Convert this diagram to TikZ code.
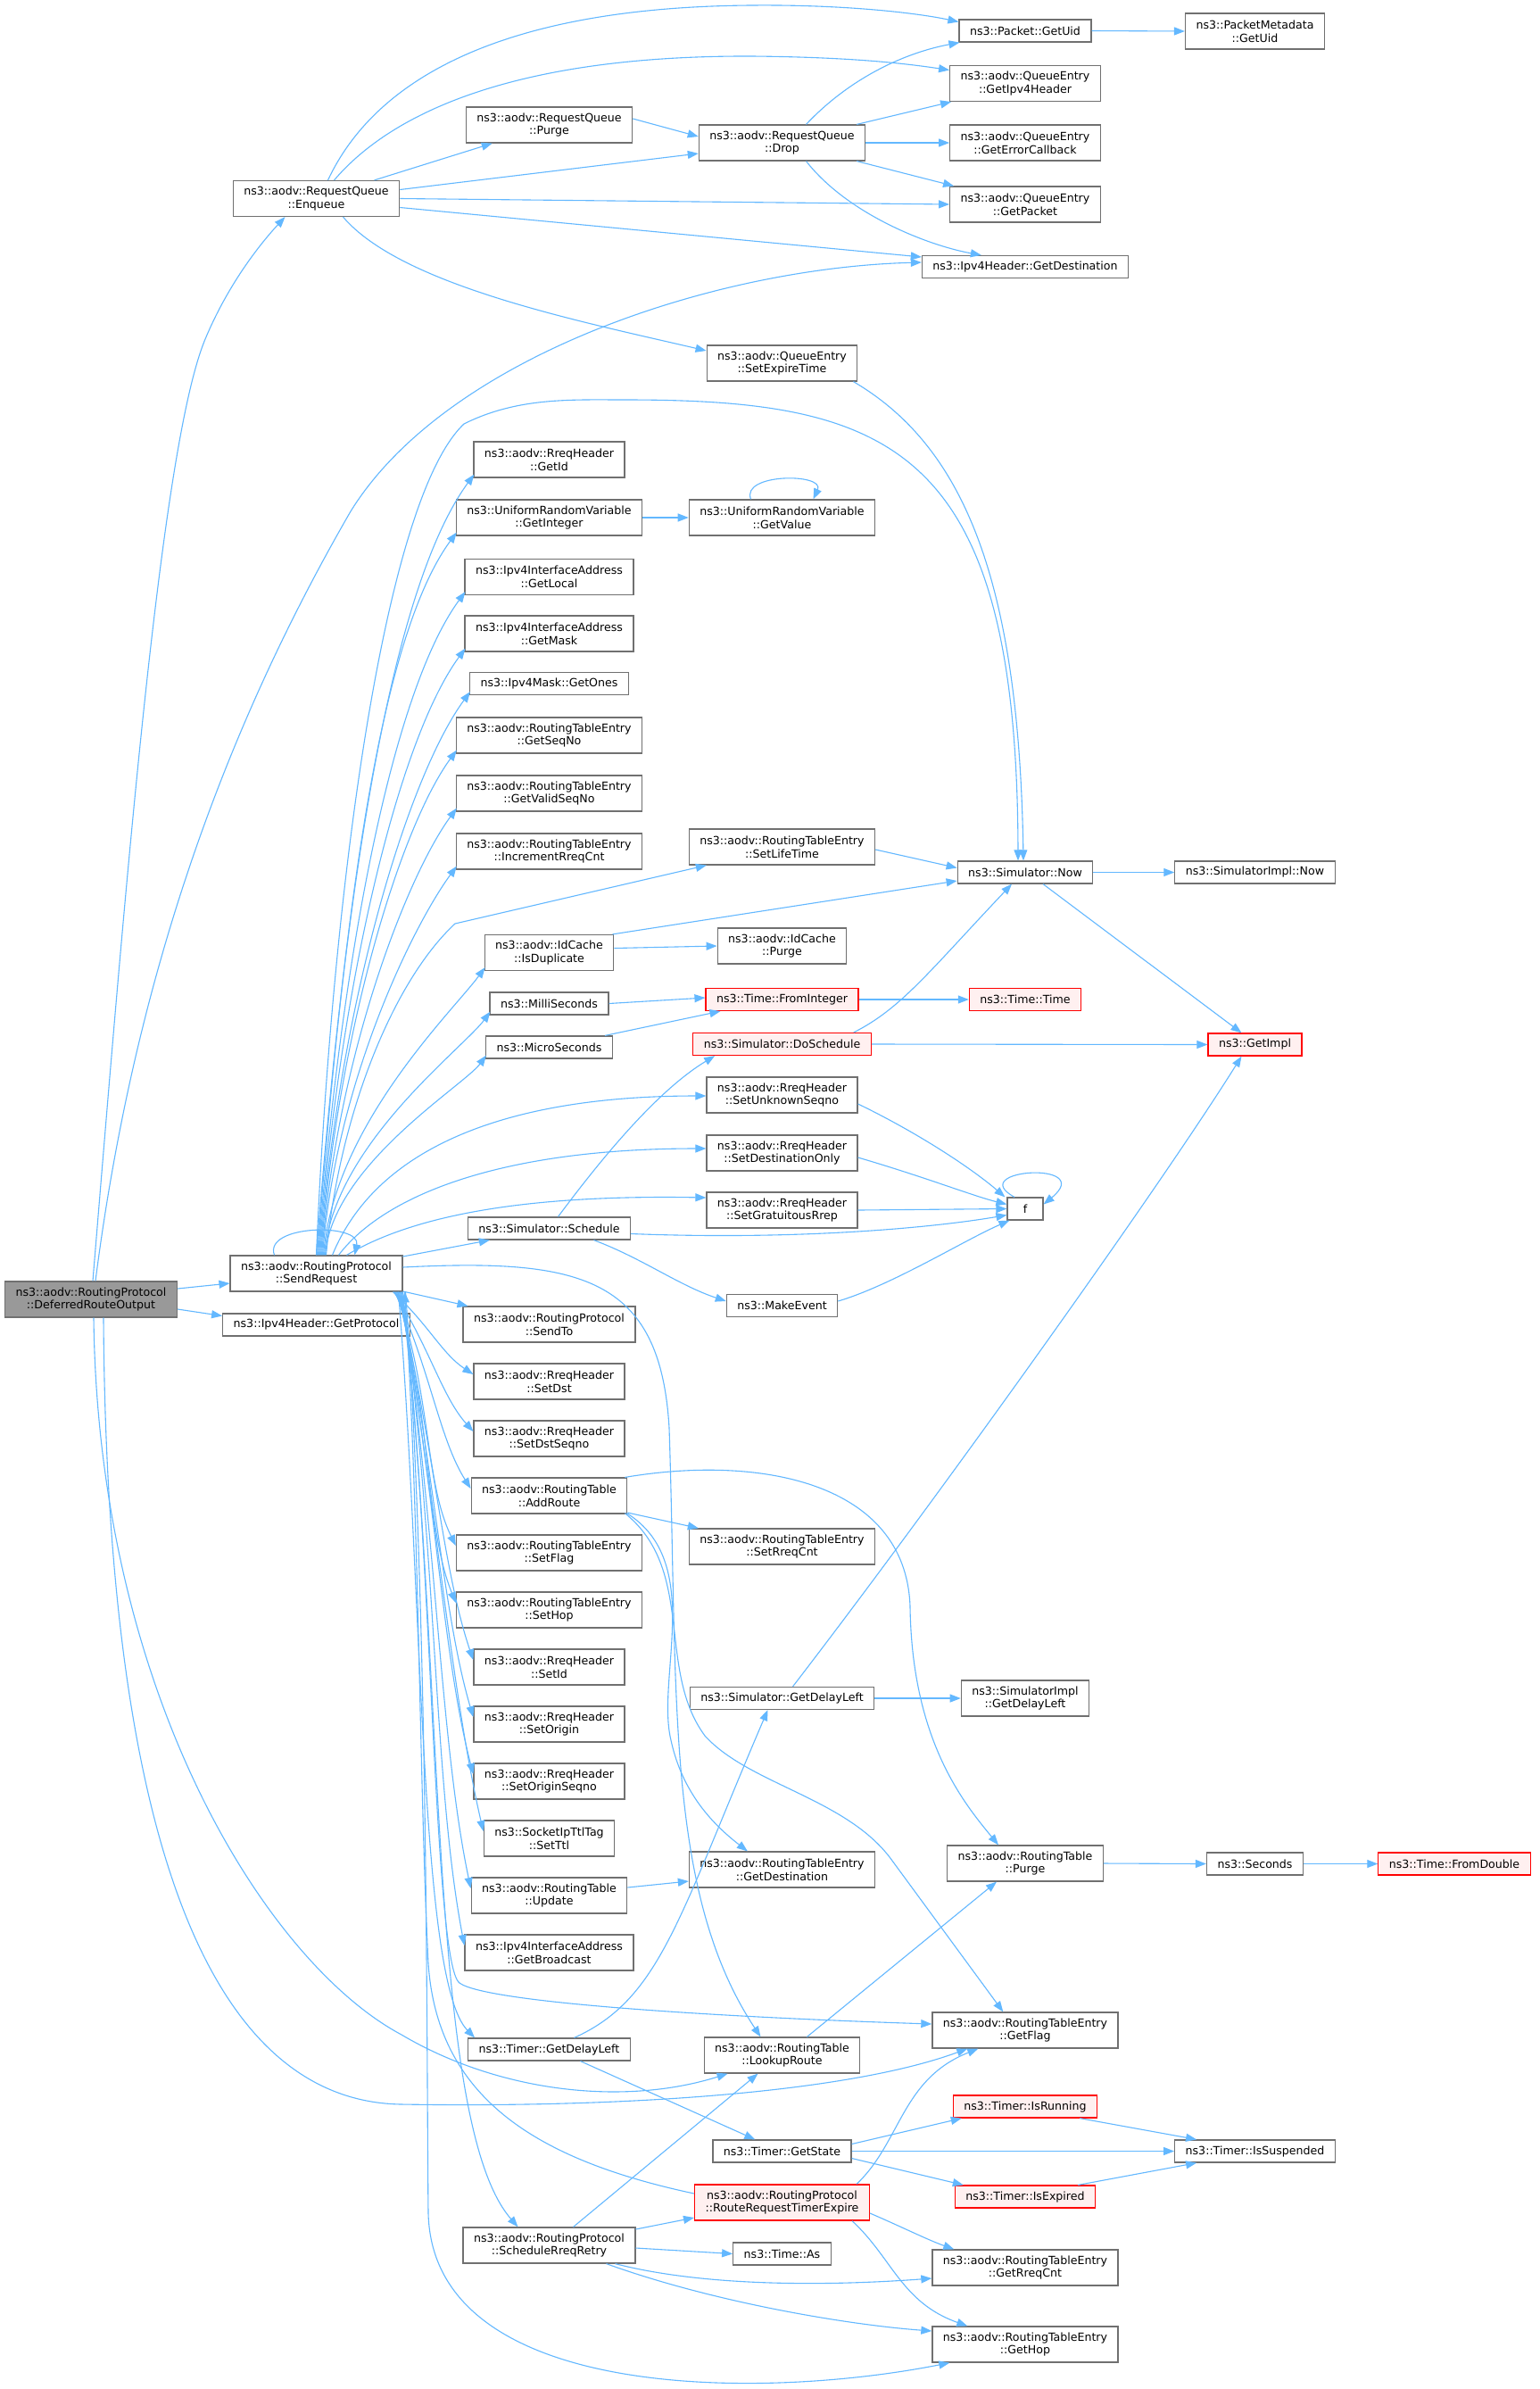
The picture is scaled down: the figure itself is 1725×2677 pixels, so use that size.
\documentclass[tikz,border=0pt]{standalone}
\usepackage{fontspec}
\setmainfont{DejaVu Sans}
\usetikzlibrary{arrows.meta,calc}
\definecolor{edgec}{HTML}{63B8FF}
\definecolor{nodeb}{HTML}{707070}
\definecolor{redb}{HTML}{FF0000}
\definecolor{redf}{HTML}{FFF0F0}
\definecolor{rootf}{HTML}{999999}
\tikzset{
 nb/.style={draw=nodeb, line width=1.2pt, fill=white, inner xsep=12pt, inner ysep=0pt, minimum height=25pt, align=center, font=\fontsize{12.6}{14.7}\selectfont, text=black},
 n2/.style={nb, minimum height=40pt},
 nr/.style={nb, draw=redb, fill=redf},
 nr2/.style={n2, draw=redb, fill=redf},
 root/.style={n2, fill=rootf},
 edg/.style={draw=edgec, line width=1.1pt, -{Triangle[length=12pt,width=9pt]}},
}
\newcommand\fanU[2]{%
  \draw[edg] let \p1=([xshift=#1]S.north), \p2=([xshift=1pt,yshift=4pt]#2.south west), \n1={\y2-\y1} in
   (\p1) .. controls (\x1+0.035*\n1,\y1+0.45*\n1) and (\x2-0.11*\n1,\y2-0.15*\n1) .. (\p2);}
\newcommand\fanD[2]{%
  \draw[edg] let \p1=([xshift=#1]S.south), \p2=([yshift=8pt]#2.west), \n1={\y1-\y2} in
   (\p1) .. controls (\x1+40pt,\y1-0.4*\n1) and (\x2-35pt,\y2+0.25*\n1) .. (\p2);}
\begin{document}
\begin{tikzpicture}[x=1pt,y=-1pt]
\fill[white] (0,0) rectangle (1725,2677);
\useasboundingbox (0,0) rectangle (1725,2677);
% column 0
\node[root] (A) at (102,1456) {ns3::aodv::RoutingProtocol\\::DeferredRouteOutput};
% column 1
\node[n2] (E) at (354.5,222.5) {ns3::aodv::RequestQueue\\::Enqueue};
\node[n2] (S) at (354.5,1427) {ns3::aodv::RoutingProtocol\\::SendRequest};
\node[nb] (GP) at (354.5,1484.5) {ns3::Ipv4Header::GetProtocol};
% column 2
\node[n2] (RQP) at (615.5,140) {ns3::aodv::RequestQueue\\::Purge};
\node[n2] (GId) at (615.5,515) {ns3::aodv::RreqHeader\\::GetId};
\node[n2] (GInt) at (615.5,580) {ns3::UniformRandomVariable\\::GetInteger};
\node[n2] (GLoc) at (615.5,646.5) {ns3::Ipv4InterfaceAddress\\::GetLocal};
\node[n2] (GMask) at (615.5,710) {ns3::Ipv4InterfaceAddress\\::GetMask};
\node[nb] (GOnes) at (615.5,766) {ns3::Ipv4Mask::GetOnes};
\node[n2] (GSeq) at (615.5,824) {ns3::aodv::RoutingTableEntry\\::GetSeqNo};
\node[n2] (GVSeq) at (615.5,889) {ns3::aodv::RoutingTableEntry\\::GetValidSeqNo};
\node[n2] (IRC) at (615.5,954) {ns3::aodv::RoutingTableEntry\\::IncrementRreqCnt};
\node[n2] (IsDup) at (615.5,1067.5) {ns3::aodv::IdCache\\::IsDuplicate};
\node[nb] (Milli) at (615.5,1124.5) {ns3::MilliSeconds};
\node[nb] (Micro) at (615.5,1173.5) {ns3::MicroSeconds};
\node[nb] (Sched) at (615.5,1376.5) {ns3::Simulator::Schedule};
\node[n2] (SendTo) at (615.5,1484) {ns3::aodv::RoutingProtocol\\::SendTo};
\node[n2] (SetDst) at (615.5,1548) {ns3::aodv::RreqHeader\\::SetDst};
\node[n2] (SetDstSeq) at (615.5,1612) {ns3::aodv::RreqHeader\\::SetDstSeqno};
\node[n2] (AddRoute) at (615.5,1676) {ns3::aodv::RoutingTable\\::AddRoute};
\node[n2] (SetFlag) at (615.5,1740) {ns3::aodv::RoutingTableEntry\\::SetFlag};
\node[n2] (SetHop) at (615.5,1804) {ns3::aodv::RoutingTableEntry\\::SetHop};
\node[n2] (SetId) at (615.5,1868) {ns3::aodv::RreqHeader\\::SetId};
\node[n2] (SetOrig) at (615.5,1932) {ns3::aodv::RreqHeader\\::SetOrigin};
\node[n2] (SetOrigSeq) at (615.5,1996) {ns3::aodv::RreqHeader\\::SetOriginSeqno};
\node[n2] (SetTtl) at (615.5,2060) {ns3::SocketIpTtlTag\\::SetTtl};
\node[n2] (Update) at (615.5,2124) {ns3::aodv::RoutingTable\\::Update};
\node[n2] (GBcast) at (615.5,2188) {ns3::Ipv4InterfaceAddress\\::GetBroadcast};
\node[nb] (TGDL) at (615.5,2296.5) {ns3::Timer::GetDelayLeft};
\node[n2] (SRR) at (615.5,2516) {ns3::aodv::RoutingProtocol\\::ScheduleRreqRetry};
% column 3
\node[n2] (Drop) at (876.5,160) {ns3::aodv::RequestQueue\\::Drop};
\node[n2] (SetExp) at (876.5,407) {ns3::aodv::QueueEntry\\::SetExpireTime};
\node[n2] (GVal) at (876.5,580) {ns3::UniformRandomVariable\\::GetValue};
\node[n2] (SetLife) at (876.5,949) {ns3::aodv::RoutingTableEntry\\::SetLifeTime};
\node[n2] (IdPurge) at (876.5,1060) {ns3::aodv::IdCache\\::Purge};
\node[nr] (FromInt) at (876.5,1120) {ns3::Time::FromInteger};
\node[nr] (DoSched) at (876.5,1170) {ns3::Simulator::DoSchedule};
\node[n2] (SetUnk) at (876.5,1227) {ns3::aodv::RreqHeader\\::SetUnknownSeqno};
\node[n2] (SetDO) at (876.5,1292) {ns3::aodv::RreqHeader\\::SetDestinationOnly};
\node[n2] (SetGR) at (876.5,1356) {ns3::aodv::RreqHeader\\::SetGratuitousRrep};
\node[nb] (MakeEv) at (876.5,1463) {ns3::MakeEvent};
\node[n2] (SetRreq) at (876.5,1733) {ns3::aodv::RoutingTableEntry\\::SetRreqCnt};
\node[nb] (SGDL) at (876.5,1903) {ns3::Simulator::GetDelayLeft};
\node[n2] (GDest) at (876.5,2095) {ns3::aodv::RoutingTableEntry\\::GetDestination};
\node[n2] (Lookup) at (876.5,2303) {ns3::aodv::RoutingTable\\::LookupRoute};
\node[nb] (GState) at (876.5,2410.5) {ns3::Timer::GetState};
\node[nr2] (RRTE) at (876.5,2468) {ns3::aodv::RoutingProtocol\\::RouteRequestTimerExpire};
\node[nb] (TAs) at (876.5,2525.5) {ns3::Time::As};
% column 4
\node[nb] (PUid) at (1149,34.5) {ns3::Packet::GetUid};
\node[n2] (GIpv4) at (1149,93.5) {ns3::aodv::QueueEntry\\::GetIpv4Header};
\node[n2] (GErr) at (1149,160) {ns3::aodv::QueueEntry\\::GetErrorCallback};
\node[n2] (GPkt) at (1149,229) {ns3::aodv::QueueEntry\\::GetPacket};
\node[nb] (IGDest) at (1149,299) {ns3::Ipv4Header::GetDestination};
\node[nb] (Now) at (1149,977.5) {ns3::Simulator::Now};
\node[nr] (TTime) at (1149,1120) {ns3::Time::Time};
\node[nb, minimum width=40pt, inner xsep=0pt] (F) at (1149,1354.5) {f};
\node[n2] (SIGDL) at (1149,1903) {ns3::SimulatorImpl\\::GetDelayLeft};
\node[n2] (RTPurge) at (1149,2088) {ns3::aodv::RoutingTable\\::Purge};
\node[n2] (GFlag) at (1149,2275) {ns3::aodv::RoutingTableEntry\\::GetFlag};
\node[nr] (IsRun) at (1149,2360.5) {ns3::Timer::IsRunning};
\node[nr] (IsExp) at (1149,2461.5) {ns3::Timer::IsExpired};
\node[n2] (GRreq) at (1149,2541) {ns3::aodv::RoutingTableEntry\\::GetRreqCnt};
\node[n2] (GHop) at (1149,2627) {ns3::aodv::RoutingTableEntry\\::GetHop};
% column 5
\node[n2] (PMUid) at (1406.5,35) {ns3::PacketMetadata\\::GetUid};
\node[nb] (SINow) at (1406.5,977.5) {ns3::SimulatorImpl::Now};
\node[nr] (GImpl) at (1406.5,1170.5) {ns3::GetImpl};
\node[nb] (Secs) at (1406.5,2088.5) {ns3::Seconds};
\node[nb] (IsSusp) at (1406.5,2410.5) {ns3::Timer::IsSuspended};
% column 6
\node[nr] (FromD) at (1630,2088.5) {ns3::Time::FromDouble};

% ---------- edges from A
\draw[edg] ([xshift=2pt]A.north) .. controls (140,1000) and (180,500) .. (230,380) .. controls (255,320) and (290,275) .. ([xshift=-35pt]E.south);
\draw[edg] ([xshift=5pt]A.north) .. controls (150,1100) and (250,820) .. (393,573) .. controls (500,400) and (800,300) .. ([yshift=5pt]IGDest.west);
\draw[edg] ([yshift=12pt]A.east) -- ([yshift=-11pt]S.west);
\draw[edg] ([yshift=-11pt]A.east) -- ([yshift=10pt]GP.west);
\draw[edg] ([xshift=3pt]A.south) .. controls (110,1900) and (300,2200) .. (450,2280) .. controls (560,2345) and (700,2360) .. ([xshift=27pt]Lookup.south west);
\draw[edg] ([xshift=14pt]A.south) .. controls (120,2100) and (250,2355) .. (450,2358) .. controls (700,2362) and (950,2345) .. ([xshift=40pt]GFlag.south west);
% ---------- edges from Enqueue
\draw[edg] ([xshift=13pt]E.north) .. controls (420,90) and (560,8) .. (842,6) .. controls (950,5) and (1030,15) .. ([yshift=10pt]PUid.west);
\draw[edg] ([xshift=20pt]E.north) .. controls (440,125) and (580,62) .. (842,63) .. controls (960,64) and (1020,72) .. ([yshift=15pt]GIpv4.west);
\draw[edg] ([xshift=65pt]E.north) -- ([xshift=30pt]RQP.south west);
\draw[edg] ([yshift=10pt]E.east) -- ([yshift=-12pt]Drop.west);
\draw[edg] (E.east) -- (GPkt.west);
\draw[edg] ([yshift=-10pt]E.east) -- ([yshift=11pt]IGDest.west);
\draw[edg] ([xshift=30pt]E.south) .. controls (450,320) and (650,360) .. ([yshift=14pt]SetExp.west);
\draw[edg] ([yshift=7pt]RQP.east) -- ([yshift=7pt]Drop.west);
% ---------- edges from Drop
\draw[edg] ([xshift=27pt]Drop.north) .. controls (950,90) and (1010,60) .. ([xshift=1pt]PUid.south west);
\draw[edg] ([xshift=-10pt]Drop.north east) -- ([xshift=2pt]GIpv4.south west);
\draw[edg] (Drop.east) -- (GErr.west);
\draw[edg] ([xshift=-10pt]Drop.south east) -- ([xshift=5pt]GPkt.north west);
\draw[edg] ([xshift=27pt]Drop.south) .. controls (950,240) and (1040,275) .. ([xshift=67pt]IGDest.north west);
\draw[edg] (PUid.east) -- (PMUid.west);
\draw[edg] ([xshift=-5pt]SetExp.south east) .. controls (1080,500) and (1142,650) .. ([xshift=-2pt]Now.north);
% ---------- SendRequest upward fan
\draw[edg] ([xshift=-47pt]S.north) .. controls (295,1372) and (405,1370) .. ([xshift=43pt]S.north);
\draw[edg] (S.north) .. controls (372,1000) and (430,560) .. (520,475) .. controls (580,445) and (640,448) .. (700,448) .. controls (1000,448) and (1140,500) .. ([xshift=-8pt]Now.north);
\fanU{0pt}{GId}
\fanU{1pt}{GInt}
\fanU{2pt}{GLoc}
\fanU{3pt}{GMask}
\fanU{4pt}{GOnes}
\fanU{5pt}{GSeq}
\fanU{6pt}{GVSeq}
\fanU{7pt}{IRC}
\fanU{8pt}{IsDup}
\fanU{9pt}{Milli}
\fanU{10pt}{Micro}
\draw[edg] ([xshift=11pt]S.north) .. controls (380,1250) and (440,1100) .. (510,1035) -- ([xshift=20pt]SetLife.south west);
\draw[edg] ([xshift=18pt]S.north) .. controls (420,1290) and (560,1228) .. ([yshift=-1pt]SetUnk.west);
\draw[edg] ([xshift=25pt]S.north) .. controls (430,1340) and (560,1287) .. ([yshift=5pt]SetDO.west);
\draw[edg] ([xshift=34pt]S.north) .. controls (450,1370) and (560,1338) .. ([yshift=14pt]SetGR.west);
\draw[edg] ([yshift=19pt]S.east) -- ([xshift=25pt]Sched.south west);
\draw[edg] ([yshift=7pt]S.east) .. controls (650,1410) and (740,1430) .. (750,1600) .. controls (760,1900) and (745,2120) .. ([xshift=-24pt]Lookup.north);
\draw[edg] ([yshift=-20pt]S.east) -- ([xshift=6pt]SendTo.north west);
% ---------- SendRequest downward fan
\fanD{86pt}{SetDst}
\fanD{87pt}{SetDstSeq}
\fanD{88pt}{AddRoute}
\fanD{89pt}{SetFlag}
\fanD{90pt}{SetHop}
\fanD{91pt}{SetId}
\fanD{92pt}{SetOrig}
\fanD{93pt}{SetOrigSeq}
\fanD{94pt}{SetTtl}
\fanD{95pt}{Update}
\fanD{96pt}{GBcast}
\draw[edg] ([xshift=92pt]S.south) .. controls (475,1800) and (470,2220) .. ([xshift=8pt]TGDL.north west);
\draw[edg] ([xshift=97pt]S.south) .. controls (500,1900) and (480,2380) .. ([xshift=-35pt]SRR.north);
\draw[edg] ([xshift=95pt]S.south) .. controls (485,1700) and (485,2200) .. (515,2222) .. controls (545,2244) and (800,2260) .. ([yshift=7pt]GFlag.west);
\draw[edg] ([xshift=100pt]S.south) .. controls (480,1800) and (478,2300) .. (480,2480) .. controls (485,2690) and (850,2690) .. ([xshift=20pt]GHop.south west);
\draw[edg] ([yshift=10pt]RRTE.west) .. controls (600,2420) and (490,2350) .. (480,2200) .. controls (470,2000) and (470,1700) .. ([xshift=99pt]S.south);
% ---------- AddRoute, Update, timers
\draw[edg] ([xshift=-3pt]AddRoute.north east) .. controls (850,1630) and (1015,1660) .. (1020,1800) .. controls (1022,1950) and (1080,2020) .. ([xshift=-30pt]RTPurge.north);
\draw[edg] ([yshift=-19pt]AddRoute.east) -- ([xshift=11pt]SetRreq.north west);
\draw[edg] ([xshift=-1pt,yshift=1pt]AddRoute.south east) .. controls (790,1750) and (735,1880) .. (752,1950) .. controls (765,2010) and (800,2045) .. ([xshift=66pt]GDest.north west);
\draw[edg] ([xshift=-3pt,yshift=1pt]AddRoute.south east) .. controls (780,1760) and (735,1870) .. (790,1945) .. controls (840,2000) and (950,2015) .. (1000,2085) -- ([xshift=80pt]GFlag.north west);
\draw[edg] ([yshift=9pt]Update.east) -- ([yshift=-13pt]GDest.west);
\draw[edg] ([xshift=28pt]TGDL.north) .. controls (740,2240) and (760,2150) .. ([xshift=-16pt]SGDL.south);
\draw[edg] ([xshift=35pt]TGDL.south) -- ([xshift=48pt]GState.north west);
\draw[edg] ([xshift=27pt]SRR.north) -- ([xshift=-27pt]Lookup.south);
\draw[edg] ([yshift=18pt]SRR.east) -- ([yshift=-17pt]RRTE.west);
\draw[edg] ([yshift=-3pt]SRR.east) -- (TAs.west);
\draw[edg] ([xshift=-23pt]SRR.south east) .. controls (800,2565) and (950,2560) .. ([yshift=-12pt]GRreq.west);
\draw[edg] ([xshift=-33pt]SRR.south east) .. controls (800,2580) and (950,2605) .. ([yshift=15pt]GHop.west);
\draw[edg] ([xshift=-15pt]RRTE.north east) .. controls (1010,2400) and (1010,2330) .. ([xshift=52pt]GFlag.south west);
\draw[edg] ([yshift=-12pt]RRTE.east) .. controls (1010,2495) and (1040,2510) .. ([xshift=25pt]GRreq.north west);
\draw[edg] ([xshift=-20pt]RRTE.south east) .. controls (1000,2530) and (1010,2580) .. ([xshift=40pt]GHop.north west);
\draw[edg] ([yshift=8pt]GState.east) -- ([xshift=10pt]IsRun.south west);
\draw[edg] (GState.east) -- (IsSusp.west);
\draw[edg] ([yshift=-8pt]GState.east) -- ([xshift=10pt]IsExp.north west);
\draw[edg] ([xshift=-20pt]IsRun.south east) -- ([xshift=25pt]IsSusp.north west);
\draw[edg] ([xshift=-20pt]IsExp.north east) -- ([xshift=25pt]IsSusp.south west);
\draw[edg] ([xshift=-60pt]Lookup.north east) -- ([xshift=-32pt]RTPurge.south);
\draw[edg] (RTPurge.east) -- (Secs.west);
\draw[edg] (Secs.east) -- (FromD.west);
\draw[edg] (SGDL.east) -- (SIGDL.west);
\draw[edg] ([xshift=12pt]SGDL.north) .. controls (1050,1680) and (1300,1330) .. ([xshift=-15pt]GImpl.south);
% ---------- simulator, time
\draw[edg] (DoSched.east) -- (GImpl.west);
\draw[edg] ([xshift=-20pt]DoSched.north east) .. controls (1010,1130) and (1040,1090) .. ([xshift=-15pt]Now.south);
\draw[edg] (FromInt.east) -- (TTime.west);
\draw[edg] (Milli.east) -- ([yshift=2pt]FromInt.west);
\draw[edg] ([xshift=-9pt]Micro.north east) -- ([xshift=17pt]FromInt.south west);
\draw[edg] ([xshift=10pt]Sched.north) .. controls (680,1290) and (740,1220) .. ([xshift=25pt]DoSched.south west);
\draw[edg] ([yshift=-6pt]Sched.east) .. controls (900,1390) and (1050,1375) .. ([yshift=-7pt]F.west);
\draw[edg] ([xshift=50pt]Sched.south) .. controls (720,1410) and (760,1440) .. ([yshift=5pt]MakeEv.west);
\draw[edg] ([yshift=5pt]MakeEv.east) .. controls (1000,1440) and (1080,1390) .. ([xshift=3pt]F.south west);
\draw[edg] ([yshift=-10pt]SetUnk.east) .. controls (1030,1270) and (1090,1310) .. ([xshift=-2pt]F.north west);
\draw[edg] ([yshift=-5pt]SetDO.east) .. controls (1040,1320) and (1090,1340) .. ([yshift=5pt]F.west);
\draw[edg] (SetGR.east) -- (F.west);
\draw[edg] ([xshift=-12pt]F.north) .. controls (1080,1310) and (1230,1300) .. ([yshift=5pt]F.east);
\draw[edg] (GInt.east) -- (GVal.west);
\draw[edg] ([xshift=-35pt]GVal.north) .. controls (830,530) and (925,530) .. ([xshift=35pt]GVal.north);
\draw[edg] ([yshift=5pt]IsDup.east) -- (IdPurge.west);
\draw[edg] ([xshift=-2pt]IsDup.north east) -- ([yshift=-9.5pt]Now.west);
\draw[edg] ([yshift=-3pt]SetLife.east) -- ([yshift=5pt]Now.west);
\draw[edg] (Now.east) -- (SINow.west);
\draw[edg] ([xshift=20pt]Now.south) -- ([xshift=-15pt]GImpl.north);
\end{tikzpicture}
\end{document}
